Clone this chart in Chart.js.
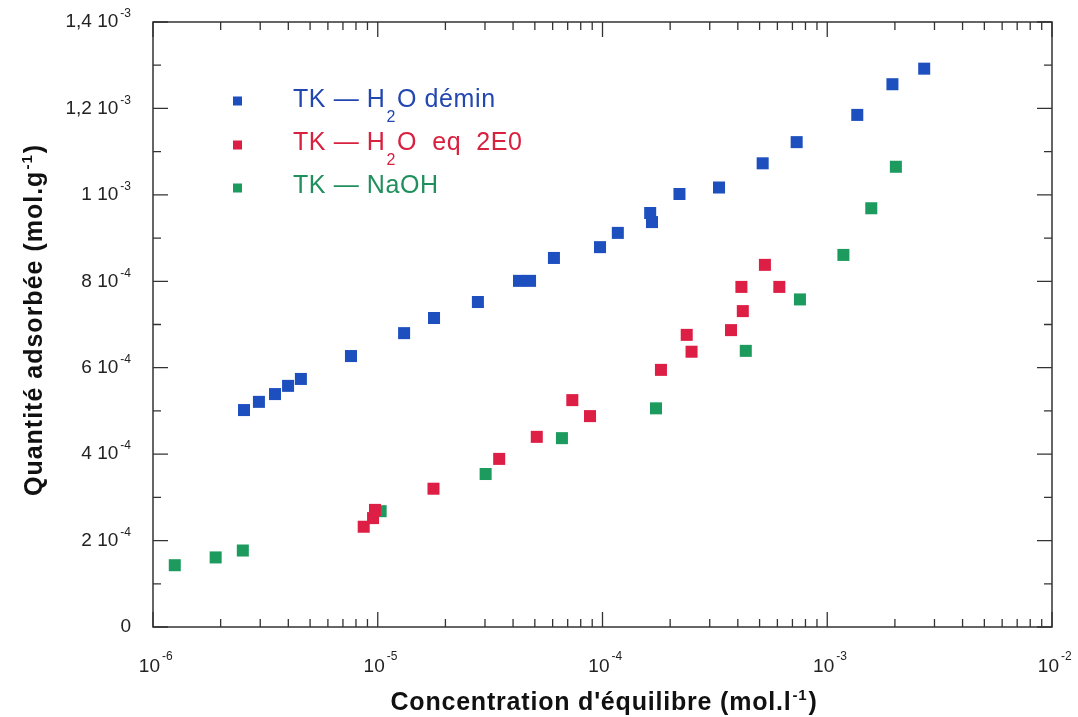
<!DOCTYPE html>
<html>
<head>
<meta charset="utf-8">
<script src="https://cdn.jsdelivr.net/npm/chart.js@4.4.1/dist/chart.umd.min.js"></script>
<style>
  html, body { margin: 0; padding: 0; background: #fff; }
  canvas { display: block; }
</style>
</head>
<body>
<canvas id="isotherm" width="1078" height="717"></canvas>
<script>
// TK - H2O démin
const deminX = [2.54e-6, 2.96e-6, 3.49e-6, 3.99e-6, 4.55e-6, 7.6e-6, 1.31e-5, 1.78e-5, 2.79e-5, 4.25e-5, 4.76e-5,
    6.08e-5, 9.75e-5, 1.17e-4, 1.63e-4, 1.66e-4, 2.20e-4, 3.30e-4, 5.16e-4, 7.31e-4, 1.36e-3, 1.95e-3, 2.70e-3];
const deminY = [5.02e-4, 5.21e-4, 5.39e-4, 5.58e-4, 5.74e-4, 6.27e-4, 6.80e-4, 7.15e-4, 7.52e-4, 8.01e-4, 8.01e-4,
    8.54e-4, 8.79e-4, 9.12e-4, 9.58e-4, 9.37e-4, 1.002e-3, 1.017e-3, 1.073e-3, 1.122e-3, 1.185e-3, 1.256e-3, 1.292e-3];

// TK - H2O eq 2E0
const eqX = [8.66e-6, 9.53e-6, 9.72e-6, 1.77e-5, 3.47e-5, 5.10e-5, 7.34e-5, 8.80e-5,
    1.82e-4, 2.37e-4, 2.49e-4, 3.73e-4, 4.21e-4, 4.15e-4, 5.28e-4, 6.12e-4];
const eqY = [2.32e-4, 2.52e-4, 2.71e-4, 3.20e-4, 3.89e-4, 4.40e-4, 5.25e-4, 4.88e-4,
    5.95e-4, 6.76e-4, 6.37e-4, 6.87e-4, 7.31e-4, 7.87e-4, 8.38e-4, 7.87e-4];

// TK - NaOH
const naohX = [1.25e-6, 1.90e-6, 2.51e-6, 1.03e-5, 3.02e-5, 6.60e-5, 1.73e-4, 4.34e-4, 7.56e-4, 1.18e-3, 1.57e-3, 2.02e-3];
const naohY = [1.43e-4, 1.61e-4, 1.77e-4, 2.68e-4, 3.54e-4, 4.37e-4, 5.06e-4, 6.39e-4, 7.58e-4, 8.61e-4, 9.69e-4, 1.065e-3];

// axis ticks
const xTickExps = [-6, -5, -4, -3, -2];
const yTickValues = [0, 2e-4, 4e-4, 6e-4, 8e-4, 1e-3, 1.2e-3, 1.4e-3];
const yTickMant = ['0', '2', '4', '6', '8', '1', '1,2', '1,4'];
const yTickExp = ['', '-4', '-4', '-4', '-4', '-3', '-3', '-3'];

const seriesNames = [['TK \u2014 H', '2', 'O d\u00e9min'], ['TK \u2014 H', '2', 'O  eq  2E0'], ['TK \u2014 NaOH', '', '']];
const markerColors = ['#1d4fbf', '#de1f45', '#1d9a5e'];
const textColors = ['#2347b0', '#d8203f', '#1f8f5c'];

const toPoints = (xs, ys) => xs.map((x, i) => ({ x: x, y: ys[i] }));

const FONT = 'Arial, "Liberation Sans", sans-serif';
const AXIS = '#333';

function drawPow(ctx, base, exp, right, midY) {
    // base + superscript, right edge at `right`
    ctx.font = '12px ' + FONT;
    const supW = exp ? ctx.measureText(exp).width : 0;
    ctx.textAlign = 'right';
    ctx.textBaseline = 'middle';
    ctx.font = '19px ' + FONT;
    ctx.fillText(base, right - supW - (exp ? 2 : 0), midY);
    if (exp) {
        ctx.font = '12px ' + FONT;
        ctx.fillText(exp, right, midY - 8);
    }
}

function drawParts(ctx, parts, x, y, bold, size) {
    // parts: [text, sup, text], drawn left-aligned from x
    const main = (bold ? 'bold ' : '') + size + 'px ' + FONT;
    const small = (bold ? 'bold ' : '') + Math.round(size * 0.6) + 'px ' + FONT;
    ctx.textAlign = 'left';
    ctx.textBaseline = 'alphabetic';
    ctx.font = main; ctx.fillText(parts[0], x, y); x += ctx.measureText(parts[0]).width + 1;
    ctx.font = small; ctx.fillText(parts[1], x, y - size * 0.42); x += ctx.measureText(parts[1]).width + 1;
    ctx.font = main; ctx.fillText(parts[2], x, y);
}

function partsWidth(ctx, parts, bold, size) {
    const main = (bold ? 'bold ' : '') + size + 'px ' + FONT;
    const small = (bold ? 'bold ' : '') + Math.round(size * 0.6) + 'px ' + FONT;
    ctx.font = main; let w = ctx.measureText(parts[0]).width + ctx.measureText(parts[2]).width;
    ctx.font = small; w += ctx.measureText(parts[1]).width + 2;
    return w;
}

const framePlugin = {
    id: 'frame',
    afterDraw(chart) {
        const { ctx, chartArea: a, scales: { x, y } } = chart;
        ctx.save();
        ctx.strokeStyle = AXIS;
        ctx.fillStyle = '#222';
        ctx.lineWidth = 1.5;
        ctx.strokeRect(a.left, a.top, a.right - a.left, a.bottom - a.top);

        // x ticks (inward, bottom and top)
        ctx.lineWidth = 1.3;
        ctx.beginPath();
        xTickExps.forEach((e, i) => {
            const px = x.getPixelForValue(Math.pow(10, e));
            ctx.moveTo(px, a.bottom); ctx.lineTo(px, a.bottom - 15);
            ctx.moveTo(px, a.top); ctx.lineTo(px, a.top + 15);
            if (i < xTickExps.length - 1) {
                for (let k = 2; k <= 9; k++) {
                    const mx = x.getPixelForValue(k * Math.pow(10, e));
                    ctx.moveTo(mx, a.bottom); ctx.lineTo(mx, a.bottom - 8);
                    ctx.moveTo(mx, a.top); ctx.lineTo(mx, a.top + 8);
                }
            }
        });
        // y ticks (inward, left and right)
        yTickValues.forEach((v, i) => {
            const py = y.getPixelForValue(v);
            ctx.moveTo(a.left, py); ctx.lineTo(a.left + 15, py);
            ctx.moveTo(a.right, py); ctx.lineTo(a.right - 15, py);
            if (i < yTickValues.length - 1) {
                const my = y.getPixelForValue(v + 1e-4);
                ctx.moveTo(a.left, my); ctx.lineTo(a.left + 8, my);
                ctx.moveTo(a.right, my); ctx.lineTo(a.right - 8, my);
            }
        });
        ctx.stroke();

        // tick labels
        yTickValues.forEach((v, i) => {
            drawPow(ctx, yTickMant[i] + (yTickExp[i] ? ' 10' : ''), yTickExp[i], a.left - 22, y.getPixelForValue(v));
        });
        xTickExps.forEach(e => {
            const px = x.getPixelForValue(Math.pow(10, e));
            ctx.font = '19px ' + FONT;
            ctx.textAlign = 'right';
            ctx.textBaseline = 'alphabetic';
            ctx.fillText('10', px + 7, 672);
            ctx.font = '12px ' + FONT;
            ctx.textAlign = 'left';
            ctx.fillText(String(e), px + 9, 660);
        });

        // axis titles
        ctx.fillStyle = '#111';
        ctx.letterSpacing = '0.8px';
        const xt = ["Concentration d'\u00e9quilibre (mol.l", '-1', ')'];
        const xw = partsWidth(ctx, xt, true, 25);
        drawParts(ctx, xt, 604 - xw / 2, 710, true, 25);

        ctx.letterSpacing = '1px';
        const yt = ['Quantit\u00e9 adsorb\u00e9e (mol.g', '-1', ')'];
        const yw = partsWidth(ctx, yt, true, 25);
        ctx.save();
        ctx.translate(42, 320);
        ctx.rotate(-Math.PI / 2);
        drawParts(ctx, yt, -yw / 2, 0, true, 25);
        ctx.restore();

        // legend
        ctx.letterSpacing = '0.6px';
        const rowsText = [107, 150, 193];
        const rowsMark = [101, 145, 188];
        seriesNames.forEach((parts, i) => {
            ctx.fillStyle = markerColors[i];
            ctx.fillRect(233, rowsMark[i] - 4.5, 9, 9);
            ctx.fillStyle = textColors[i];
            ctx.font = '25px ' + FONT;
            ctx.textAlign = 'left';
            ctx.textBaseline = 'alphabetic';
            let tx = 293;
            ctx.fillText(parts[0], tx, rowsText[i]);
            tx += ctx.measureText(parts[0]).width + 1;
            if (parts[1]) {
                ctx.font = '16px ' + FONT;
                ctx.fillText(parts[1], tx, rowsText[i] + 15);
                tx += ctx.measureText(parts[1]).width + 1;
                ctx.font = '25px ' + FONT;
                ctx.fillText(parts[2], tx, rowsText[i]);
            }
        });
        ctx.letterSpacing = '0px';
        ctx.restore();
    }
};

const makeSet = (label, xs, ys, i) => ({
    label: label,
    data: toPoints(xs, ys),
    showLine: false,
    pointStyle: 'rect',
    pointRadius: 8.5,
    pointBorderWidth: 0,
    backgroundColor: markerColors[i],
    borderColor: markerColors[i]
});

new Chart(document.getElementById('isotherm'), {
    type: 'scatter',
    data: {
        datasets: [
            makeSet('TK - H2O d\u00e9min', deminX, deminY, 0),
            makeSet('TK - H2O eq 2E0', eqX, eqY, 1),
            makeSet('TK - NaOH', naohX, naohY, 2)
        ]
    },
    options: {
        responsive: false,
        animation: false,
        events: [],
        layout: { padding: { left: 153, top: 22, right: 26, bottom: 90 } },
        plugins: { legend: { display: false }, tooltip: { enabled: false } },
        scales: {
            x: { type: 'logarithmic', min: 1e-6, max: 1e-2, display: false },
            y: { type: 'linear', min: 0, max: 1.4e-3, display: false }
        }
    },
    plugins: [framePlugin]
});
</script>
</body>
</html>
